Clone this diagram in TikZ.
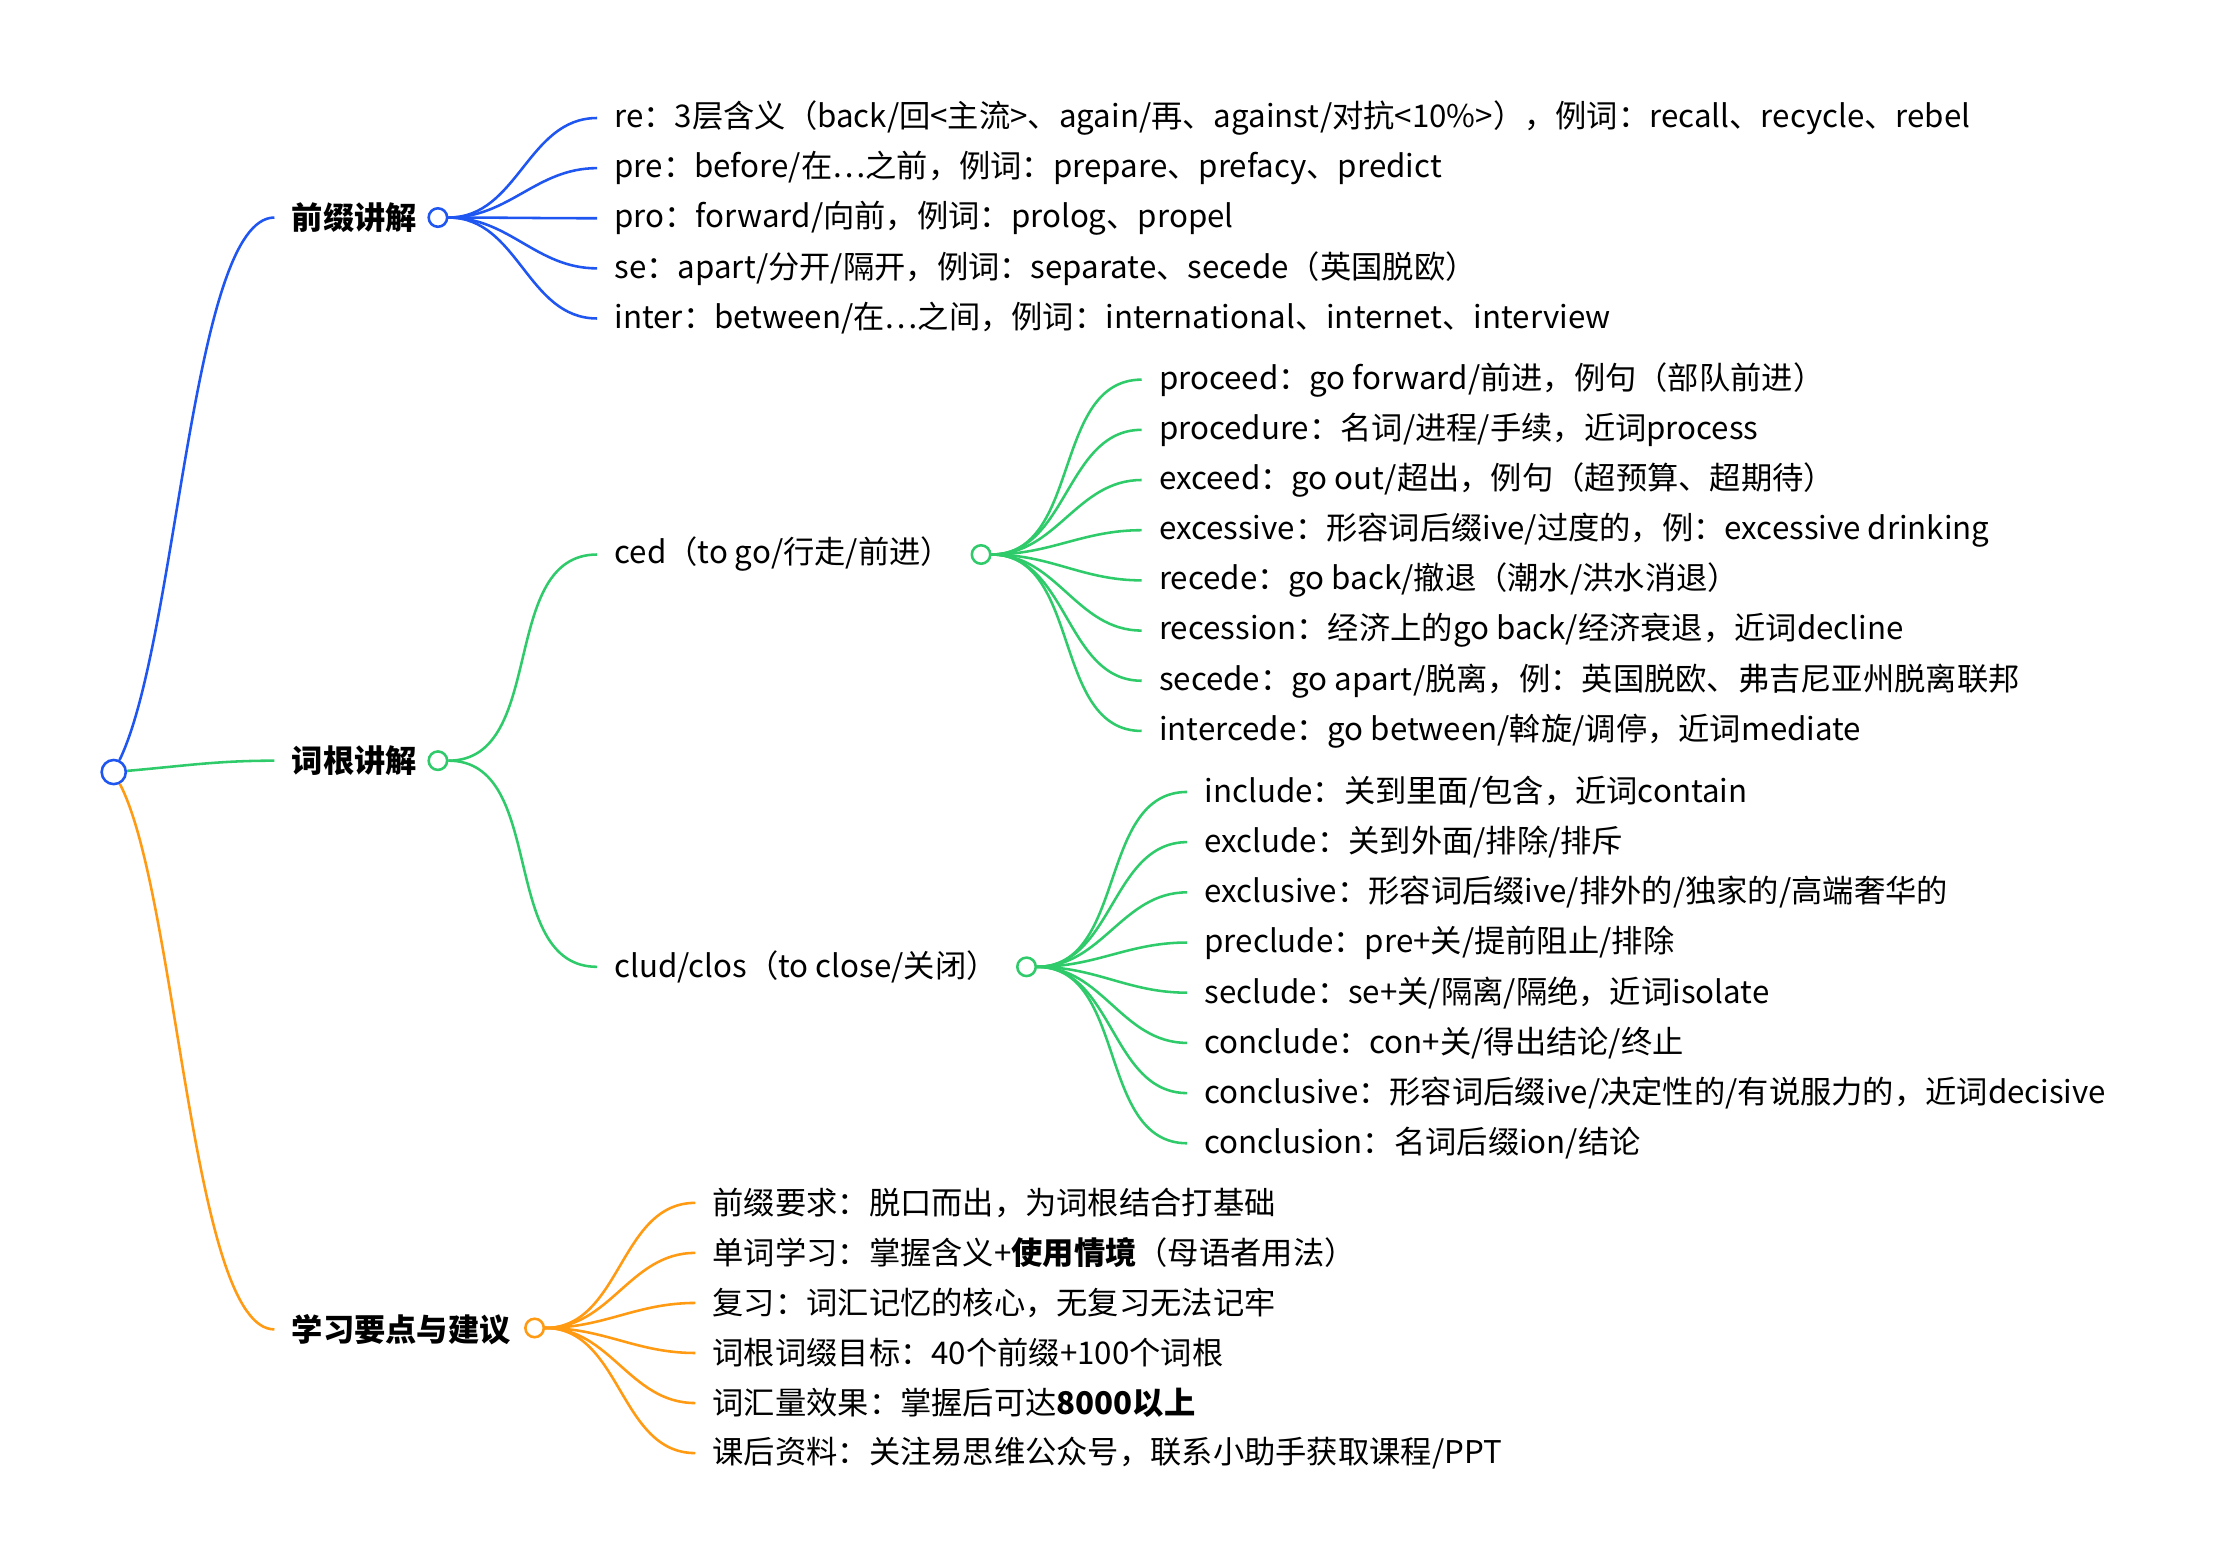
\documentclass[tikz,border=0pt]{standalone}
\usepackage{fontspec}
\setmainfont{Noto Sans CJK SC}
\definecolor{mblue}{HTML}{1F55F0}
\definecolor{mgreen}{HTML}{2FCB6A}
\definecolor{morange}{HTML}{FF9A12}
\tikzset{leaf/.style={anchor=west,inner xsep=12pt,inner ysep=0pt,font=\fontsize{22}{25}\selectfont},
    topic/.style={leaf,font=\fontsize{22}{25}\selectfont\bfseries},
    dot/.style={draw=#1,circle,fill=white,inner sep=0pt,minimum size=13pt,line width=1.8pt},
    link/.style={line width=1.8pt,out=0,in=180}}
\begin{document}
\begin{tikzpicture}[x=1pt,y=-1pt]
    \useasboundingbox (0,0) rectangle (1560,1098);
    % root
    \node[dot=mblue,minimum size=17pt] (root) at (80,543) {};
    % first level
    \node[topic] (pre) at (193,153) {前缀讲解};
    \node[topic] (rt) at (193,535) {词根讲解};
    \node[topic] (tip) at (193,935) {学习要点与建议};
    \draw[line width=1.8pt,mblue] (root) .. controls (125,450) and (135,153) .. (pre.west);
    \draw[link,mgreen,out=5] (root) to (rt.west);
    \draw[line width=1.8pt,morange] (root) .. controls (125,630) and (135,935) .. (tip.west);
    \node[dot=mblue] (preC) at (308,153) {};
    \node[dot=mgreen] (rtC) at (308,535) {};
    \node[dot=morange] (tipC) at (376,934) {};
    % prefixes
    \foreach \t [count=\i] in {re：3层含义（back/回<主流>、again/再、against/对抗<10\%>），例词：recall、recycle、rebel,
        pre：before/在⋯之前，例词：prepare、prefacy、predict,
        pro：forward/向前，例词：prolog、propel,
        se：apart/分开/隔开，例词：separate、secede（英国脱欧）,
        inter：between/在⋯之间，例词：international、internet、interview}{
        \node[leaf] (p\i) at (420,{83+35.25*(\i-1)}) {\t};
        \draw[link,mblue] (preC) to (p\i.west);
    }
    % roots
    \node[leaf] (ced) at (420,390) {ced（to go/行走/前进）};
    \node[leaf] (clud) at (420,680) {clud/clos（to close/关闭）};
    \draw[link,mgreen] (rtC) to (ced.west);
    \draw[link,mgreen] (rtC) to (clud.west);
    \node[dot=mgreen] (cedC) at (690,390) {};
    \node[dot=mgreen] (cludC) at (722,680) {};
    \foreach \t [count=\i] in {proceed：go forward/前进，例句（部队前进）,
        procedure：名词/进程/手续，近词process,
        exceed：go out/超出，例句（超预算、超期待）,
        excessive：形容词后缀ive/过度的，例：excessive drinking,
        recede：go back/撤退（潮水/洪水消退）,
        recession：经济上的go back/经济衰退，近词decline,
        secede：go apart/脱离，例：英国脱欧、弗吉尼亚州脱离联邦,
        intercede：go between/斡旋/调停，近词mediate}{
        \node[leaf] (g\i) at (803,{267+35.3*(\i-1)}) {\t};
        \draw[link,mgreen] (cedC) to (g\i.west);
    }
    \foreach \t [count=\i] in {include：关到里面/包含，近词contain,
        exclude：关到外面/排除/排斥,
        exclusive：形容词后缀ive/排外的/独家的/高端奢华的,
        preclude：pre+关/提前阻止/排除,
        seclude：se+关/隔离/隔绝，近词isolate,
        conclude：con+关/得出结论/终止,
        conclusive：形容词后缀ive/决定性的/有说服力的，近词decisive,
        conclusion：名词后缀ion/结论}{
        \node[leaf] (k\i) at (835,{557+35.3*(\i-1)}) {\t};
        \draw[link,mgreen] (cludC) to (k\i.west);
    }
    % tips
    \foreach \t [count=\i] in {前缀要求：脱口而出，为词根结合打基础,
        单词学习：掌握含义+\textbf{使用情境}（母语者用法）,
        复习：词汇记忆的核心，无复习无法记牢,
        词根词缀目标：40个前缀+100个词根,
        词汇量效果：掌握后可达\textbf{8000以上},
        课后资料：关注易思维公众号，联系小助手获取课程/PPT}{
        \node[leaf] (s\i) at (489,{846+35.2*(\i-1)}) {\t};
        \draw[link,morange] (tipC) to (s\i.west);
    }
\end{tikzpicture}
\end{document}
